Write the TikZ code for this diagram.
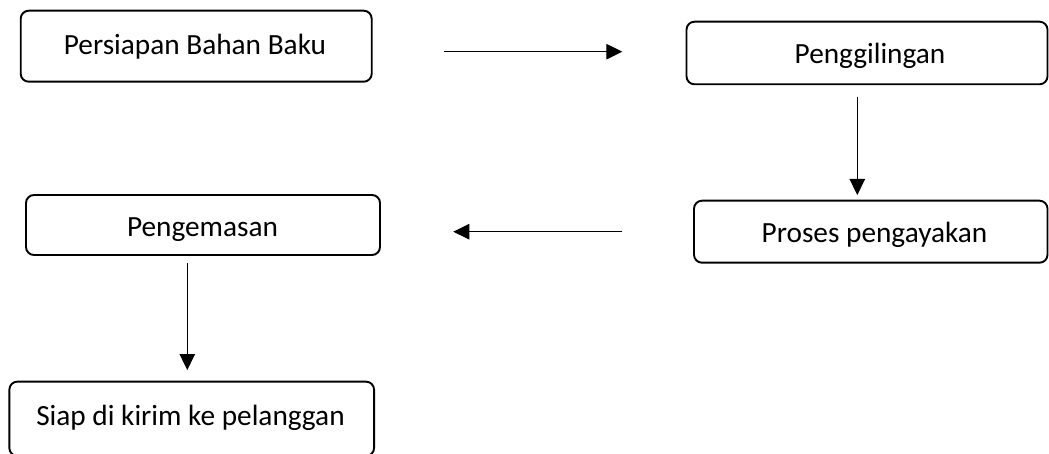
\documentclass[tikz,border=0pt]{standalone}
\usepackage{fontspec}
\setmainfont{Carlito}
\usetikzlibrary{arrows.meta}
\tikzset{
  box/.style={draw=black, line width=1.9pt, rounded corners=8pt, inner sep=0pt},
  lbl/.style={anchor=base, inner sep=0pt, font=\fontsize{29.3}{35}\selectfont},
  conn/.style={line width=1.1pt, -{Triangle[length=16pt,width=15.5pt]}}
}
\begin{document}
\begin{tikzpicture}[x=1pt,y=-1pt]
\useasboundingbox (0,0) rectangle (1049,454);
% boxes
\node[box, minimum width=351pt, minimum height=71pt] (b1) at (196.2,46.2) {};
\node[box, minimum width=361pt, minimum height=62.6pt] (b2) at (867,53) {};
\node[box, minimum width=353.5pt, minimum height=62pt] (b3) at (870.75,231.7) {};
\node[box, minimum width=354pt, minimum height=60pt] (b4) at (203,225) {};
\node[box, minimum width=364.7pt, minimum height=74.3pt] (b5) at (191.7,418.8) {};
% labels
\node[lbl] (t1) at (195,55) {Persiapan Bahan Baku};
\node[lbl] (t2) at (870,64) {Penggilingan};
\node[lbl] (t3) at (874.5,242.7) {Proses pengayakan};
\node[lbl] (t4) at (202.5,236.5) {Pengemasan};
\node[lbl] (t5) at (190.5,425) {Siap di kirim ke pelanggan};
% connector end points
\coordinate (a1s) at (444,51.7);
\coordinate (a1e) at (622.3,51.7);
\coordinate (a2s) at (857.3,96.7);
\coordinate (a2e) at (857.3,195);
\coordinate (a3s) at (622.3,231.7);
\coordinate (a3e) at (453.3,231.7);
\coordinate (a4s) at (187.3,263.3);
\coordinate (a4e) at (187.3,370);
\draw[conn] (a1s) -- (a1e);
\draw[conn] (a2s) -- (a2e);
\draw[conn] (a3s) -- (a3e);
\draw[conn] (a4s) -- (a4e);
\end{tikzpicture}
\end{document}
